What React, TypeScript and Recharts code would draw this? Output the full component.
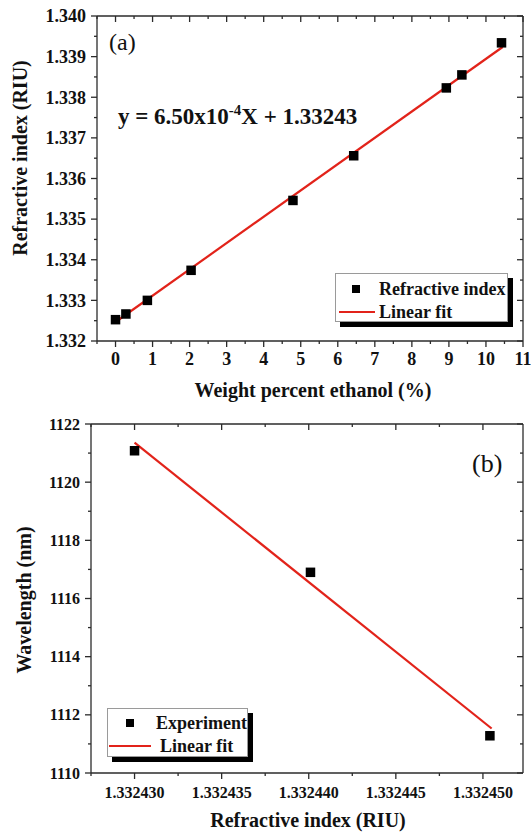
import { ComposedChart, Scatter, Line, XAxis, YAxis, Legend } from "recharts";

// Deux panneaux empilés (a) et (b), style Origin : cadre fermé, graduations majeures/mineures,
// ticks sortants en bas/à gauche, rentrants en haut/à droite (axes "mirror" sans étiquettes).
// Les traits de graduation sont dessinés par le tick custom (tickSize 0) pour mêler majeures et mineures.
const SERIF = "'Liberation Serif', 'Times New Roman', Times, serif";
const INK = "#111";
const FRAME = "#2b2b2b";
const RED = "#e2231a";

// --- (a) indice de réfraction vs pourcentage massique d'éthanol
const A_WT = [0, 0.28, 0.86, 2.04, 4.79, 6.43, 8.93, 9.35, 10.42];
const A_RI = [1.332525, 1.332665, 1.333, 1.33374, 1.33546, 1.33656, 1.33823, 1.33855, 1.33934];
const A_FIT_X = [0, 10.45];
const A_FIT_Y = [1.332468, 1.339237];
const A_X_MAJOR = [0, 1, 2, 3, 4, 5, 6, 7, 8, 9, 10, 11];
const A_X_MINOR = [-0.5, 0.5, 1.5, 2.5, 3.5, 4.5, 5.5, 6.5, 7.5, 8.5, 9.5, 10.5];
const A_Y_MAJOR = [1.332, 1.333, 1.334, 1.335, 1.336, 1.337, 1.338, 1.339, 1.34];
const A_Y_MINOR = [1.3325, 1.3335, 1.3345, 1.3355, 1.3365, 1.3375, 1.3385, 1.3395];

// --- (b) longueur d'onde vs indice de réfraction
const B_RI = [1.33243, 1.3324401, 1.3324504];
const B_WL = [1121.08, 1116.9, 1111.28];
const B_FIT_X = [1.33243, 1.3324505];
const B_FIT_Y = [1121.36, 1111.53];
const B_X_MAJOR = [1.33243, 1.332435, 1.33244, 1.332445, 1.33245];
const B_X_MINOR = [1.3324275, 1.3324325, 1.3324375, 1.3324425, 1.3324475];
const B_Y_MAJOR = [1110, 1112, 1114, 1116, 1118, 1120, 1122];
const B_Y_MINOR = [1111, 1113, 1115, 1117, 1119, 1121];

const A_PTS = A_WT.map((x, i) => ({ x, y: A_RI[i] }));
const A_FIT = A_FIT_X.map((x, i) => ({ x, y: A_FIT_Y[i] }));
const B_PTS = B_RI.map((x, i) => ({ x, y: B_WL[i] }));
const B_FIT = B_FIT_X.map((x, i) => ({ x, y: B_FIT_Y[i] }));

const Square = (p: any) => <rect x={p.cx - 4.75} y={p.cy - 4.75} width={9.5} height={9.5} fill="#000" />;

type Side = "b" | "l" | "t" | "r";
const MAJ = 6, MIN = 3;

// tick custom : trait (majeur/mineur) + étiquette éventuelle ; (x, y) = point sur l'axe car tickSize/tickMargin = 0
const mkTick = (side: Side, minor: number[], fmt?: (v: number) => string, fs = 16, gap = 5) => (p: any) => {
  const v = p.payload?.value;
  const isMinor = minor.includes(v);
  const len = isMinor ? MIN : MAJ;
  const { x, y } = p;
  const ln = { stroke: FRAME, strokeWidth: 1.3 };
  const txt = { fill: INK, fontSize: fs, fontWeight: 700, fontFamily: SERIF };
  if (side === "b") return (
    <g>
      <line x1={x} y1={y} x2={x} y2={y + len} {...ln} />
      {!isMinor && fmt && <text x={x} y={y + len + gap} dy="0.71em" textAnchor="middle" style={txt}>{fmt(v)}</text>}
    </g>
  );
  if (side === "l") return (
    <g>
      <line x1={x - len} y1={y} x2={x} y2={y} {...ln} />
      {!isMinor && fmt && <text x={x - len - gap} y={y} dy="0.35em" textAnchor="end" style={txt}>{fmt(v)}</text>}
    </g>
  );
  if (side === "t") return <line x1={x} y1={y} x2={x} y2={y + len} {...ln} />;
  return <line x1={x - len} y1={y} x2={x} y2={y} {...ln} />;
};

type FrameCfg = {
  xDomain: [number, number]; yDomain: [number, number];
  xMajor: number[]; xMinor: number[]; yMajor: number[]; yMinor: number[];
  xFmt: (v: number) => string; yFmt: (v: number) => string;
  xFont: number; yFont: number; xGap: number; yGap: number; bottomH: number; leftW: number;
};

function frame(c: FrameCfg) {
  const line = { stroke: FRAME, strokeWidth: 1.3 };
  const xt = [...c.xMajor, ...c.xMinor].sort((a, b) => a - b);
  const yt = [...c.yMajor, ...c.yMinor].sort((a, b) => a - b);
  const x = { type: "number" as const, dataKey: "x", domain: c.xDomain, allowDataOverflow: true, interval: 0 as const,
              ticks: xt, tickSize: 0, tickMargin: 0, tickLine: false, axisLine: line };
  const y = { type: "number" as const, dataKey: "y", domain: c.yDomain, allowDataOverflow: true, interval: 0 as const,
              ticks: yt, tickSize: 0, tickMargin: 0, tickLine: false, axisLine: line };
  return [
    <XAxis key="xb" xAxisId="xb" {...x} height={c.bottomH} tick={mkTick("b", c.xMinor, c.xFmt, c.xFont, c.xGap)} />,
    <XAxis key="xt" xAxisId="xt" {...x} orientation="top" mirror height={1} tick={mkTick("t", c.xMinor)} />,
    <YAxis key="yl" yAxisId="yl" {...y} width={c.leftW} tick={mkTick("l", c.yMinor, c.yFmt, c.yFont, c.yGap)} />,
    <YAxis key="yr" yAxisId="yr" {...y} orientation="right" mirror width={1} tick={mkTick("r", c.yMinor)} />,
  ];
}

type LegGeo = { w: number; h: number; iconX: number; rowY: number[]; textX: number[]; lineX: [number, number] };

function BoxLegend({ payload, g }: { payload?: any[]; g: LegGeo }) {
  const items = payload ?? [];
  const rows = [items.find((i) => i.type === "square"), items.find((i) => i.type === "line")].filter(Boolean);
  return (
    <div style={{ position: "relative", width: g.w, height: g.h, boxSizing: "border-box", background: "#fff",
                  border: "1px solid #9a9a9a", boxShadow: "5px 5px 0 #000", fontFamily: SERIF, fontWeight: 700,
                  fontSize: 18, color: INK }}>
      {rows.map((it: any, i) => (
        <div key={i}>
          {it.type === "square"
            ? <div style={{ position: "absolute", left: g.iconX - 4, top: g.rowY[i] - 4, width: 8, height: 8, background: "#000" }} />
            : <div style={{ position: "absolute", left: g.lineX[0], top: g.rowY[i] - 1, width: g.lineX[1] - g.lineX[0], height: 2, background: RED }} />}
          <span style={{ position: "absolute", left: g.textX[i], top: g.rowY[i], transform: "translateY(-50%)", lineHeight: 1, whiteSpace: "nowrap" }}>
            {it.value}
          </span>
        </div>
      ))}
    </div>
  );
}

const titleStyle = { fontFamily: SERIF, fontWeight: 700, fontSize: 20, fill: INK };

export default function App() {
  return (
    <div style={{ position: "absolute", left: 0, top: 0, width: 531, height: 834, background: "#fff" }}>
      <ComposedChart width={531} height={406} margin={{ top: 16, right: 8, bottom: 0, left: 0 }}>
        {frame({ xDomain: [-0.5, 11], yDomain: [1.332, 1.34], xMajor: A_X_MAJOR, xMinor: A_X_MINOR, yMajor: A_Y_MAJOR,
                 yMinor: A_Y_MINOR, xFmt: (v) => String(v), yFmt: (v) => v.toFixed(3), xFont: 18, yFont: 18,
                 xGap: 5, yGap: 5, bottomH: 65, leftW: 97 })}
        <Scatter xAxisId="xb" yAxisId="yl" data={A_PTS} name="Refractive index" legendType="square" fill="#000"
                 shape={Square} isAnimationActive={false} />
        <Line xAxisId="xb" yAxisId="yl" data={A_FIT} dataKey="y" name="Linear fit" legendType="line" stroke={RED}
              strokeWidth={2.2} dot={false} activeDot={false} isAnimationActive={false} />
        <Legend layout="horizontal" verticalAlign="middle" align="center"
                wrapperStyle={{ left: 335, top: 273, width: 173, height: 49 }}
                content={(p: any) => <BoxLegend payload={p.payload}
                  g={{ w: 173, h: 49, iconX: 20, rowY: [15, 38], textX: [43, 43], lineX: [3, 39] }} />} />
        <text x={109} y={50} style={{ fontFamily: SERIF, fontSize: 24, fill: INK }}>(a)</text>
        <text x={118} y={124} style={{ fontFamily: SERIF, fontWeight: 700, fontSize: 23, fill: INK }}>
          y = 6.50x10<tspan dy={-9} fontSize={15}>-4</tspan><tspan dy={9}>X + 1.33243</tspan>
        </text>
        <text x={313} y={397} textAnchor="middle" style={titleStyle}>Weight percent ethanol (%)</text>
        <text transform="translate(27,158) rotate(-90)" textAnchor="middle" style={titleStyle}>Refractive index (RIU)</text>
      </ComposedChart>
      <ComposedChart width={531} height={428} margin={{ top: 18, right: 8, bottom: 0, left: 0 }}>
        {frame({ xDomain: [1.3324275, 1.3324523], yDomain: [1110, 1122], xMajor: B_X_MAJOR, xMinor: B_X_MINOR,
                 yMajor: B_Y_MAJOR, yMinor: B_Y_MINOR, xFmt: (v) => v.toFixed(6), yFmt: (v) => String(v),
                 xFont: 16, yFont: 16, xGap: 8, yGap: 5, bottomH: 61, leftW: 91 })}
        <Scatter xAxisId="xb" yAxisId="yl" data={B_PTS} name="Experiment" legendType="square" fill="#000"
                 shape={Square} isAnimationActive={false} />
        <Line xAxisId="xb" yAxisId="yl" data={B_FIT} dataKey="y" name="Linear fit" legendType="line" stroke={RED}
              strokeWidth={2.2} dot={false} activeDot={false} isAnimationActive={false} />
        <Legend layout="horizontal" verticalAlign="middle" align="center"
                wrapperStyle={{ left: 107, top: 302, width: 141, height: 49 }}
                content={(p: any) => <BoxLegend payload={p.payload}
                  g={{ w: 141, h: 49, iconX: 22, rowY: [14, 37], textX: [48, 52], lineX: [1, 43] }} />} />
        <text x={472} y={66} style={{ fontFamily: SERIF, fontSize: 26, fill: INK }}>(b)</text>
        <text x={308} y={421} textAnchor="middle" style={titleStyle}>Refractive index (RIU)</text>
        <text transform="translate(31,194) rotate(-90)" textAnchor="middle" style={titleStyle}>Wavelength (nm)</text>
      </ComposedChart>
    </div>
  );
}
